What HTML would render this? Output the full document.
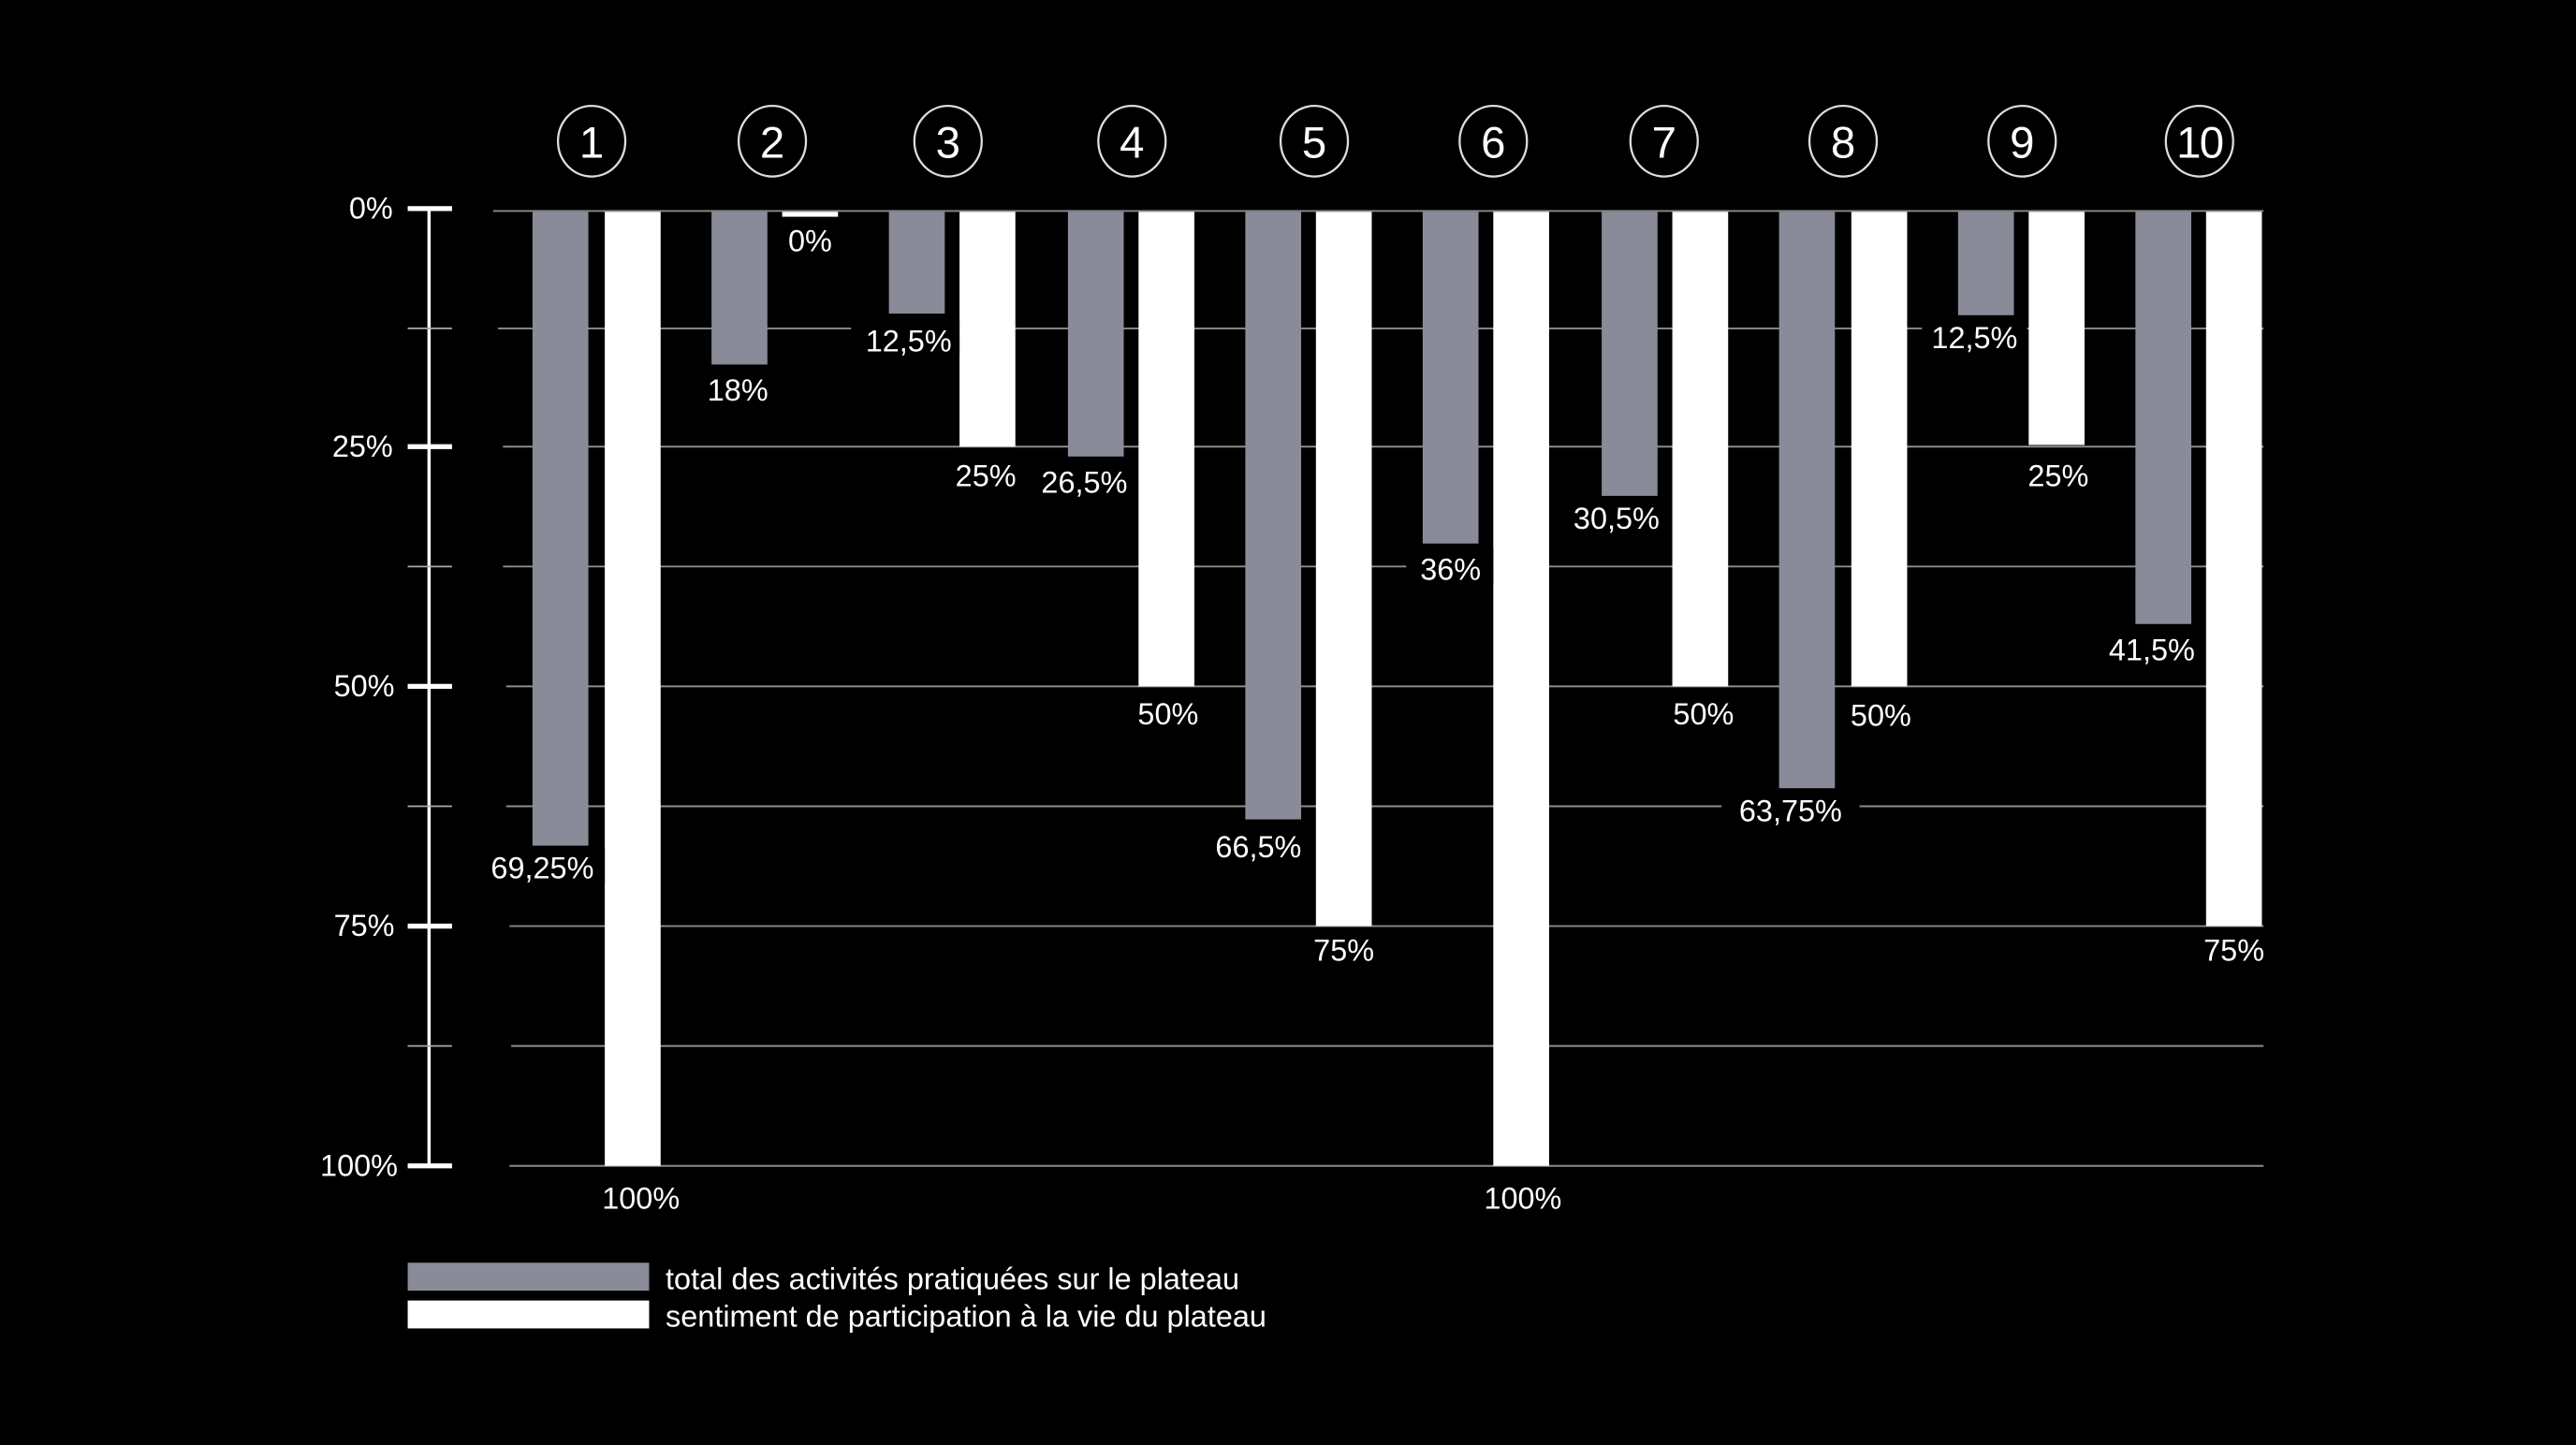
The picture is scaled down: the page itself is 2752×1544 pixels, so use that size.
<!DOCTYPE html>
<html><head><meta charset="utf-8"><style>
html,body{margin:0;padding:0;background:#000;}
svg{display:block;}
text{font-family:"Liberation Sans",sans-serif;fill:#fff;}
</style></head><body>
<svg width="2752" height="1544" viewBox="0 0 1568 880" xmlns="http://www.w3.org/2000/svg">
<rect width="1568" height="880" fill="#000"/>
<g stroke="#8c8c8c" stroke-width="1.1">
<line x1="300" y1="128.5" x2="1378" y2="128.5"/>
<line x1="303" y1="200" x2="1378" y2="200"/>
<line x1="306" y1="272" x2="1378" y2="272"/>
<line x1="306" y1="345" x2="1378" y2="345"/>
<line x1="308" y1="418" x2="1378" y2="418"/>
<line x1="308" y1="491" x2="1378" y2="491"/>
<line x1="310" y1="564" x2="1378" y2="564"/>
<line x1="311" y1="637" x2="1378" y2="637"/>
<line x1="310" y1="710" x2="1378" y2="710"/>
</g>
<g stroke="#fff">
<line x1="261" y1="127" x2="261" y2="710" stroke-width="2"/>
<g stroke-width="3">
<line x1="248" y1="127" x2="275" y2="127"/>
<line x1="248" y1="272" x2="275" y2="272"/>
<line x1="248" y1="418" x2="275" y2="418"/>
<line x1="248" y1="564" x2="275" y2="564"/>
<line x1="248" y1="710" x2="275" y2="710"/>
</g>
<g stroke-width="1" stroke="#aaa">
<line x1="248" y1="200" x2="275" y2="200"/>
<line x1="248" y1="345" x2="275" y2="345"/>
<line x1="248" y1="491" x2="275" y2="491"/>
<line x1="248" y1="637" x2="275" y2="637"/>
</g>
</g>
<g font-size="18.5" text-anchor="end">
<text x="239" y="133">0%</text>
<text x="239" y="278">25%</text>
<text x="240" y="424">50%</text>
<text x="240" y="570">75%</text>
<text x="242" y="716">100%</text>
</g>
<g fill="#8a8b99">
<rect x="324" y="129" width="34" height="386"/>
<rect x="433" y="129" width="34" height="93"/>
<rect x="541" y="129" width="34" height="62"/>
<rect x="650" y="129" width="34" height="149"/>
<rect x="758" y="129" width="34" height="370"/>
<rect x="866" y="129" width="34" height="202"/>
<rect x="975" y="129" width="34" height="173"/>
<rect x="1083" y="129" width="34" height="351"/>
<rect x="1192" y="129" width="34" height="63"/>
<rect x="1300" y="129" width="34" height="251"/>
</g>
<g fill="#fff">
<rect x="368" y="129" width="34" height="581"/>
<rect x="476" y="129" width="34" height="3"/>
<rect x="584" y="129" width="34" height="143"/>
<rect x="693" y="129" width="34" height="289"/>
<rect x="801" y="129" width="34" height="435"/>
<rect x="909" y="129" width="34" height="581"/>
<rect x="1018" y="129" width="34" height="289"/>
<rect x="1127" y="129" width="34" height="289"/>
<rect x="1235" y="129" width="34" height="142"/>
<rect x="1343" y="129" width="34" height="435"/>
</g>
<g fill="#000">
<rect x="518" y="194" width="66" height="22"/>
<rect x="856" y="334" width="53" height="22"/>
<rect x="1048" y="481" width="84" height="22"/>
<rect x="1170" y="192" width="64" height="22"/>
<rect x="276" y="516" width="92" height="22"/>
</g>
<g font-size="18.5" text-anchor="middle">
<text x="330" y="535">69,25%</text>
<text x="390" y="736">100%</text>
<text x="449" y="244">18%</text>
<text x="493" y="153">0%</text>
<text x="553" y="214">12,5%</text>
<text x="600" y="296">25%</text>
<text x="660" y="300">26,5%</text>
<text x="711" y="441">50%</text>
<text x="766" y="522">66,5%</text>
<text x="818" y="585">75%</text>
<text x="883" y="353">36%</text>
<text x="927" y="736">100%</text>
<text x="984" y="322">30,5%</text>
<text x="1037" y="441">50%</text>
<text x="1090" y="500">63,75%</text>
<text x="1145" y="442">50%</text>
<text x="1202" y="212">12,5%</text>
<text x="1253" y="296">25%</text>
<text x="1310" y="402">41,5%</text>
<text x="1360" y="585">75%</text>
</g>
<g fill="none" stroke="#ddd" stroke-width="1.3">
<ellipse cx="360" cy="86" rx="20.5" ry="21.5"/>
<ellipse cx="470" cy="86" rx="20.5" ry="21.5"/>
<ellipse cx="577" cy="86" rx="20.5" ry="21.5"/>
<ellipse cx="689" cy="86" rx="20.5" ry="21.5"/>
<ellipse cx="800" cy="86" rx="20.5" ry="21.5"/>
<ellipse cx="909" cy="86" rx="20.5" ry="21.5"/>
<ellipse cx="1013" cy="86" rx="20.5" ry="21.5"/>
<ellipse cx="1122" cy="86" rx="20.5" ry="21.5"/>
<ellipse cx="1231" cy="86" rx="20.5" ry="21.5"/>
<ellipse cx="1339" cy="86" rx="20.5" ry="21.5"/>
</g>
<g font-size="27" text-anchor="middle">
<text x="360" y="96">1</text>
<text x="470" y="96">2</text>
<text x="577" y="96">3</text>
<text x="689" y="96">4</text>
<text x="800" y="96">5</text>
<text x="909" y="96">6</text>
<text x="1013" y="96">7</text>
<text x="1122" y="96">8</text>
<text x="1231" y="96">9</text>
<text x="1339" y="96" letter-spacing="-1">10</text>
</g>
<rect x="248" y="769" width="147" height="17" fill="#8a8b99"/>
<rect x="248" y="792" width="147" height="17" fill="#fff"/>
<g font-size="18.5">
<text x="405" y="785">total des activités pratiquées sur le plateau</text>
<text x="405" y="808">sentiment de participation à la vie du plateau</text>
</g>
</svg>
</body></html>
